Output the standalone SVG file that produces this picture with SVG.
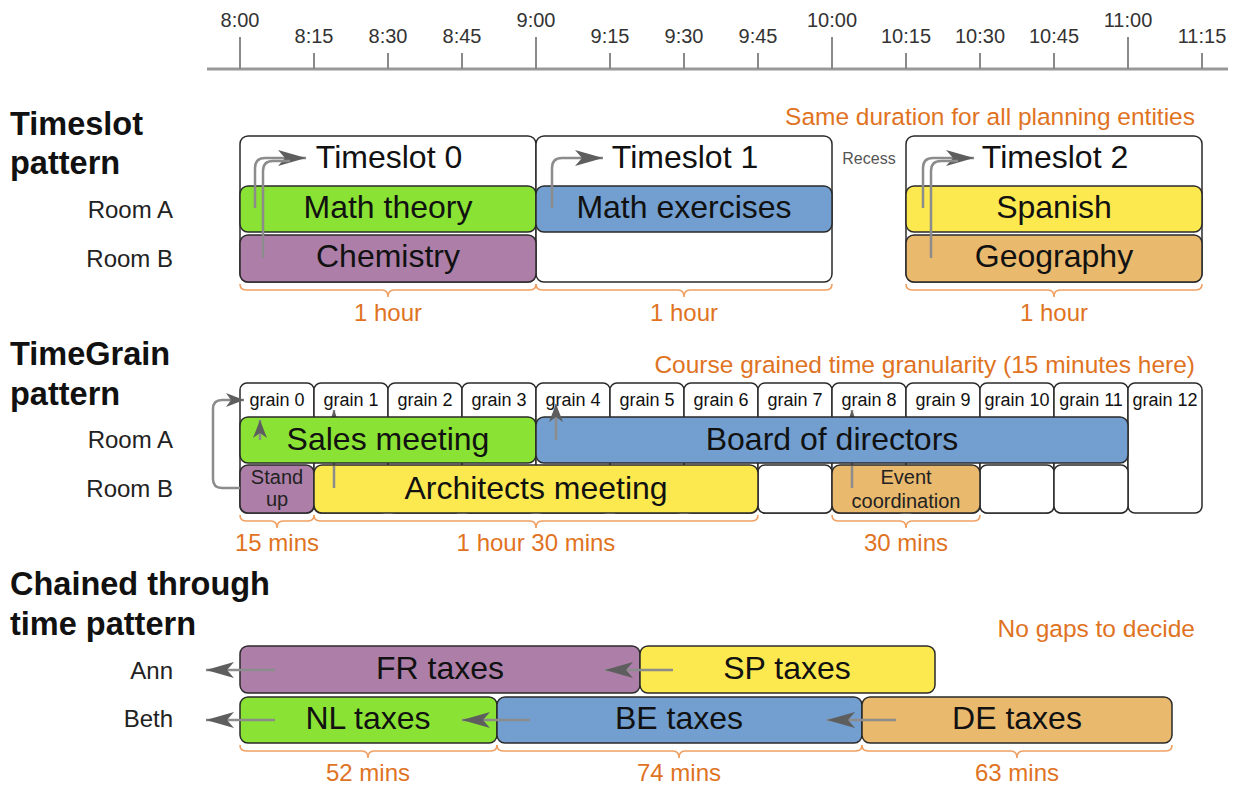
<svg xmlns="http://www.w3.org/2000/svg" width="1243" height="787" viewBox="0 0 1243 787">
<style>
text{font-family:"Liberation Sans",Arial,sans-serif}
.ax{font-size:20px;fill:#333;text-anchor:middle}
.tick{stroke:#8a8a8a;stroke-width:2}
.title{font-size:32.5px;font-weight:bold;fill:#111}
.room{font-size:24px;fill:#222;text-anchor:end}
.note{font-size:24.5px;fill:#e0731f}
.dur{font-size:24px;fill:#e0731f;text-anchor:middle}
.brace{fill:none;stroke:#efa062;stroke-width:1.6}
.box{stroke:#2a2a2a;stroke-width:1.5}
.white{fill:#fff}
.green{fill:#8ae234}
.blue{fill:#729fcf}
.purple{fill:#ad7fa8}
.yellow{fill:#fce94f}
.tan{fill:#e9b96e}
.big{font-size:32px;fill:#111;text-anchor:middle}
.grain{font-size:18px;fill:#111;text-anchor:middle}
.small{font-size:20px;fill:#222;text-anchor:middle}
.conn{fill:none;stroke:#8c8c8c;stroke-width:2.5}
</style>
<defs>
<marker id="ah" viewBox="0 0 28 16" refX="28" refY="8" markerWidth="28" markerHeight="16" markerUnits="userSpaceOnUse" orient="auto"><path d="M0,0 L28,8 L0,16 L7,8 z" fill="#5e5e5e"/></marker>
<marker id="ahm" viewBox="0 0 18 14" refX="18" refY="7" markerWidth="18" markerHeight="14" markerUnits="userSpaceOnUse" orient="auto"><path d="M0,0 L18,7 L0,14 L5,7 z" fill="#5e5e5e"/></marker>
<marker id="ahs" viewBox="0 0 8 6" refX="8" refY="3" markerWidth="8" markerHeight="6" markerUnits="userSpaceOnUse" orient="auto"><path d="M0,0 L8,3 L0,6 z" fill="#5e5e5e"/></marker>
</defs>
<rect width="1243" height="787" fill="#fff"/>

<g id="axis">
<line x1="207" y1="69" x2="1228" y2="69" stroke="#999" stroke-width="3"/>
<line class="tick" x1="240" y1="37" x2="240" y2="69"/>
<line class="tick" x1="314" y1="53" x2="314" y2="69"/>
<line class="tick" x1="388" y1="53" x2="388" y2="69"/>
<line class="tick" x1="462" y1="53" x2="462" y2="69"/>
<line class="tick" x1="536" y1="37" x2="536" y2="69"/>
<line class="tick" x1="610" y1="53" x2="610" y2="69"/>
<line class="tick" x1="684" y1="53" x2="684" y2="69"/>
<line class="tick" x1="758" y1="53" x2="758" y2="69"/>
<line class="tick" x1="832" y1="37" x2="832" y2="69"/>
<line class="tick" x1="906" y1="53" x2="906" y2="69"/>
<line class="tick" x1="980" y1="53" x2="980" y2="69"/>
<line class="tick" x1="1054" y1="53" x2="1054" y2="69"/>
<line class="tick" x1="1128" y1="37" x2="1128" y2="69"/>
<line class="tick" x1="1202" y1="53" x2="1202" y2="69"/>
<text class="ax" x="240" y="27">8:00</text>
<text class="ax" x="314" y="43">8:15</text>
<text class="ax" x="388" y="43">8:30</text>
<text class="ax" x="462" y="43">8:45</text>
<text class="ax" x="536" y="27">9:00</text>
<text class="ax" x="610" y="43">9:15</text>
<text class="ax" x="684" y="43">9:30</text>
<text class="ax" x="758" y="43">9:45</text>
<text class="ax" x="832" y="27">10:00</text>
<text class="ax" x="906" y="43">10:15</text>
<text class="ax" x="980" y="43">10:30</text>
<text class="ax" x="1054" y="43">10:45</text>
<text class="ax" x="1128" y="27">11:00</text>
<text class="ax" x="1202" y="43">11:15</text>
</g>

<g id="labels">
<text class="title" x="10" y="135">Timeslot</text>
<text class="title" x="10" y="174">pattern</text>
<text class="room" x="173" y="218">Room A</text>
<text class="room" x="173" y="267">Room B</text>
<text class="note" x="1195" y="125" text-anchor="end">Same duration for all planning entities</text>
<text class="title" x="10" y="365">TimeGrain</text>
<text class="title" x="10" y="405">pattern</text>
<text class="room" x="173" y="448">Room A</text>
<text class="room" x="173" y="497">Room B</text>
<text class="note" x="1195" y="373" text-anchor="end">Course grained time granularity (15 minutes here)</text>
<text class="title" x="10" y="595">Chained through</text>
<text class="title" x="10" y="635">time pattern</text>
<text class="room" x="173" y="679">Ann</text>
<text class="room" x="173" y="727">Beth</text>
<text class="note" x="1195" y="637" text-anchor="end">No gaps to decide</text>
<text x="869" y="164" font-size="16" fill="#555" text-anchor="middle">Recess</text>
</g>

<!-- Timeslot pattern -->
<g id="timeslot0">
<rect class="box white" x="240" y="136" width="296" height="146" rx="8"/>
<text class="big" x="389" y="168">Timeslot 0</text>
</g>
<g id="timeslot1">
<rect class="box white" x="536" y="136" width="296" height="146" rx="8"/>
<text class="big" x="685" y="168">Timeslot 1</text>
</g>
<g id="timeslot2">
<rect class="box white" x="906" y="136" width="296" height="146" rx="8"/>
<text class="big" x="1055" y="168">Timeslot 2</text>
</g>
<g id="math-theory">
<rect class="box green" x="240" y="186" width="296" height="46" rx="8"/>
<text class="big" x="388" y="218">Math theory</text>
</g>
<g id="chemistry">
<rect class="box purple" x="240" y="235" width="296" height="47" rx="8"/>
<text class="big" x="388" y="267">Chemistry</text>
</g>
<g id="math-exercises">
<rect class="box blue" x="536" y="186" width="296" height="46" rx="8"/>
<text class="big" x="684" y="218">Math exercises</text>
</g>
<g id="spanish">
<rect class="box yellow" x="906" y="186" width="296" height="46" rx="8"/>
<text class="big" x="1054" y="218">Spanish</text>
</g>
<g id="geography">
<rect class="box tan" x="906" y="235" width="296" height="47" rx="8"/>
<text class="big" x="1054" y="267">Geography</text>
</g>

<!-- TimeGrain pattern -->
<g id="grains">
<rect class="box white" x="240" y="383" width="74" height="130" rx="7"/>
<rect class="box white" x="314" y="383" width="74" height="130" rx="7"/>
<rect class="box white" x="388" y="383" width="74" height="130" rx="7"/>
<rect class="box white" x="462" y="383" width="74" height="130" rx="7"/>
<rect class="box white" x="536" y="383" width="74" height="130" rx="7"/>
<rect class="box white" x="610" y="383" width="74" height="130" rx="7"/>
<rect class="box white" x="684" y="383" width="74" height="130" rx="7"/>
<rect class="box white" x="758" y="383" width="74" height="130" rx="7"/>
<rect class="box white" x="832" y="383" width="74" height="130" rx="7"/>
<rect class="box white" x="906" y="383" width="74" height="130" rx="7"/>
<rect class="box white" x="980" y="383" width="74" height="130" rx="7"/>
<rect class="box white" x="1054" y="383" width="74" height="130" rx="7"/>
<rect class="box white" x="1128" y="383" width="74" height="130" rx="7"/>
<rect class="box white" x="758" y="465" width="74" height="48" rx="7"/>
<rect class="box white" x="980" y="465" width="74" height="48" rx="7"/>
<rect class="box white" x="1054" y="465" width="74" height="48" rx="7"/>
<text class="grain" x="277" y="406">grain 0</text>
<text class="grain" x="351" y="406">grain 1</text>
<text class="grain" x="425" y="406">grain 2</text>
<text class="grain" x="499" y="406">grain 3</text>
<text class="grain" x="573" y="406">grain 4</text>
<text class="grain" x="647" y="406">grain 5</text>
<text class="grain" x="721" y="406">grain 6</text>
<text class="grain" x="795" y="406">grain 7</text>
<text class="grain" x="869" y="406">grain 8</text>
<text class="grain" x="943" y="406">grain 9</text>
<text class="grain" x="1017" y="406">grain 10</text>
<text class="grain" x="1091" y="406">grain 11</text>
<text class="grain" x="1165" y="406">grain 12</text>
</g>
<g id="grain-links-under">
<line class="conn" x1="334" y1="488" x2="334" y2="410" stroke-width="2" marker-end="url(#ahs)"/>
<line class="conn" x1="852" y1="488" x2="852" y2="410" stroke-width="2" marker-end="url(#ahs)"/>
</g>
<g id="sales-meeting">
<rect class="box green" x="240" y="417" width="296" height="46" rx="8"/>
<text class="big" x="388" y="450">Sales meeting</text>
</g>
<g id="board-of-directors">
<rect class="box blue" x="536" y="417" width="592" height="46" rx="8"/>
<text class="big" x="832" y="450">Board of directors</text>
</g>
<g id="stand-up">
<rect class="box purple" x="240" y="465" width="74" height="48" rx="8"/>
<text class="small" x="277" y="484">Stand</text>
<text class="small" x="277" y="506">up</text>
</g>
<g id="architects-meeting">
<rect class="box yellow" x="314" y="465" width="444" height="48" rx="8"/>
<text class="big" x="536" y="499">Architects meeting</text>
</g>
<g id="event-coordination">
<rect class="box tan" x="832" y="465" width="148" height="48" rx="8"/>
<text class="small" x="906" y="484">Event</text>
<text class="small" x="906" y="508">coordination</text>
</g>

<!-- Chained through time pattern -->
<g id="fr-taxes">
<rect class="box purple" x="240" y="646" width="400" height="47" rx="8"/>
<text class="big" x="440" y="679">FR taxes</text>
</g>
<g id="sp-taxes">
<rect class="box yellow" x="640" y="646" width="295" height="47" rx="8"/>
<text class="big" x="787" y="679">SP taxes</text>
</g>
<g id="nl-taxes">
<rect class="box green" x="240" y="697" width="257" height="46" rx="8"/>
<text class="big" x="368" y="729">NL taxes</text>
</g>
<g id="be-taxes">
<rect class="box blue" x="497" y="697" width="365" height="46" rx="8"/>
<text class="big" x="679" y="729">BE taxes</text>
</g>
<g id="de-taxes">
<rect class="box tan" x="862" y="697" width="310" height="46" rx="8"/>
<text class="big" x="1017" y="729">DE taxes</text>
</g>

<g id="connectors">
<path class="conn" d="M255,208 V168 Q255,158 265,158 H306" marker-end="url(#ah)"/>
<path class="conn" d="M263,258 V171 Q263,161 273,161 H290"/>
<path class="conn" d="M552,208 V168 Q552,158 562,158 H603" marker-end="url(#ah)"/>
<path class="conn" d="M923,208 V168 Q923,158 933,158 H974" marker-end="url(#ah)"/>
<path class="conn" d="M931,258 V171 Q931,161 941,161 H958"/>
<path class="conn" d="M240,488 H222 Q213,488 213,479 V409 Q213,400 222,400 H244" marker-end="url(#ahm)"/>
<line class="conn" x1="260" y1="440" x2="260" y2="420" marker-end="url(#ahm)"/>
<line class="conn" x1="556" y1="440" x2="556" y2="404" marker-end="url(#ahm)"/>
<line class="conn" x1="334" y1="488" x2="334" y2="466" stroke-width="2"/>
<line class="conn" x1="852" y1="488" x2="852" y2="466" stroke-width="2"/>
<line class="conn" x1="275" y1="670" x2="206" y2="670" marker-end="url(#ah)"/>
<line class="conn" x1="673" y1="670" x2="605" y2="670" marker-end="url(#ah)"/>
<line class="conn" x1="275" y1="720" x2="206" y2="720" marker-end="url(#ah)"/>
<line class="conn" x1="530" y1="720" x2="462" y2="720" marker-end="url(#ah)"/>
<line class="conn" x1="896" y1="720" x2="827" y2="720" marker-end="url(#ah)"/>
</g>

<g id="braces">
<path class="brace" d="M240,284 Q240,290 246,290 H382 Q388,290 388,297 Q388,290 394,290 H530 Q536,290 536,284"/>
<path class="brace" d="M536,284 Q536,290 542,290 H678 Q684,290 684,297 Q684,290 690,290 H826 Q832,290 832,284"/>
<path class="brace" d="M906,284 Q906,290 912,290 H1048 Q1054,290 1054,297 Q1054,290 1060,290 H1196 Q1202,290 1202,284"/>
<text class="dur" x="388" y="321">1 hour</text>
<text class="dur" x="684" y="321">1 hour</text>
<text class="dur" x="1054" y="321">1 hour</text>
<path class="brace" d="M240,515 Q240,521 246,521 H271 Q277,521 277,528 Q277,521 283,521 H308 Q314,521 314,515"/>
<path class="brace" d="M314,515 Q314,521 320,521 H530 Q536,521 536,528 Q536,521 542,521 H752 Q758,521 758,515"/>
<path class="brace" d="M832,515 Q832,521 838,521 H900 Q906,521 906,528 Q906,521 912,521 H974 Q980,521 980,515"/>
<text class="dur" x="277" y="551">15 mins</text>
<text class="dur" x="536" y="551">1 hour 30 mins</text>
<text class="dur" x="906" y="551">30 mins</text>
<path class="brace" d="M240,745 Q240,751 246,751 H362 Q368,751 368,758 Q368,751 374,751 H491 Q497,751 497,745"/>
<path class="brace" d="M497,745 Q497,751 503,751 H673 Q679,751 679,758 Q679,751 685,751 H856 Q862,751 862,745"/>
<path class="brace" d="M862,745 Q862,751 868,751 H1011 Q1017,751 1017,758 Q1017,751 1023,751 H1166 Q1172,751 1172,745"/>
<text class="dur" x="368" y="781">52 mins</text>
<text class="dur" x="679" y="781">74 mins</text>
<text class="dur" x="1017" y="781">63 mins</text>
</g>
</svg>
